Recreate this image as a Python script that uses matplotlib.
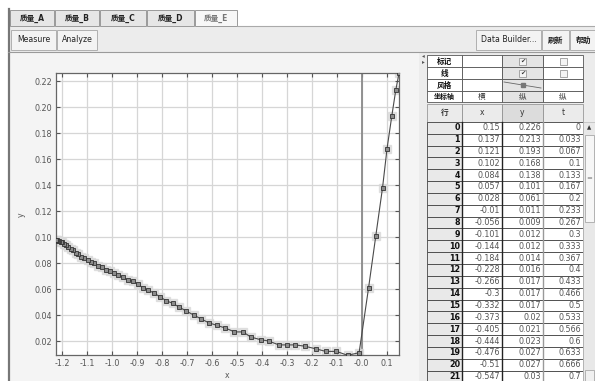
import numpy as np
import matplotlib
matplotlib.use("Agg")
import matplotlib.pyplot as plt
from matplotlib.patches import Rectangle
from matplotlib.lines import Line2D

plt.rcParams['font.family'] = ['DejaVu Sans', 'Noto Sans CJK SC']

x_vals = [0.15, 0.137, 0.121, 0.102, 0.084, 0.057, 0.028, -0.01, -0.056, -0.101,
          -0.144, -0.184, -0.228, -0.266, -0.3, -0.332, -0.373, -0.405, -0.444, -0.476,
          -0.51, -0.547, -0.580, -0.613, -0.644, -0.674, -0.703, -0.731, -0.758, -0.784,
          -0.809, -0.833, -0.856, -0.878, -0.899, -0.919, -0.939, -0.958, -0.976, -0.994,
          -1.011, -1.027, -1.043, -1.058, -1.072, -1.086, -1.099, -1.112, -1.124, -1.136,
          -1.147, -1.157, -1.167, -1.176, -1.185, -1.193, -1.200, -1.206, -1.212, -1.217,
          -1.221, -1.224, -1.226]
y_vals = [0.226, 0.213, 0.193, 0.168, 0.138, 0.101, 0.061, 0.011, 0.009, 0.012,
          0.012, 0.014, 0.016, 0.017, 0.017, 0.017, 0.02, 0.021, 0.023, 0.027,
          0.027, 0.03, 0.032, 0.034, 0.037, 0.040, 0.043, 0.046, 0.049, 0.051,
          0.054, 0.057, 0.059, 0.061, 0.064, 0.066, 0.067, 0.069, 0.071, 0.072,
          0.074, 0.075, 0.077, 0.078, 0.080, 0.081, 0.082, 0.084, 0.085, 0.087,
          0.088, 0.090, 0.091, 0.092, 0.094, 0.095, 0.096, 0.096, 0.097, 0.097,
          0.098, 0.098, 0.098]
t_vals = [0, 0.033, 0.067, 0.1, 0.133, 0.167, 0.2, 0.233, 0.267, 0.3, 0.333,
          0.367, 0.4, 0.433, 0.466, 0.5, 0.533, 0.566, 0.6, 0.633, 0.666, 0.7]

xtick_vals = [-1.2, -1.1, -1.0, -0.9, -0.8, -0.7, -0.6, -0.5, -0.4, -0.3, -0.2, -0.1, 0.0, 0.1]
xtick_labels = ["-1.2", "-1.1", "-1.0", "-0.9", "-0.8", "-0.7", "-0.6", "-0.5", "-0.4",
                "-0.3", "-0.2", "-0.1", "-0.0", "0.1"]
ytick_vals = [0.02, 0.04, 0.06, 0.08, 0.10, 0.12, 0.14, 0.16, 0.18, 0.20, 0.22]

tab_names = ["质量_A", "质量_B", "质量_C", "质量_D", "质量_E"]
left_buttons = ["Measure", "Analyze"]
right_buttons = ["Data Builder...", "刷新", "帮助"]
prop_rows = ["标记", "线", "风格", "坐标轴"]
axis_cells = ["横", "纵", "纵"]
col_names = ["行", "x", "y", "t"]

W, H = 595, 381
fig = plt.figure(figsize=(W / 100, H / 100), dpi=100)

ui = fig.add_axes([0, 0, 1, 1])
ui.set_xlim(0, W)
ui.set_ylim(H, 0)
ui.axis('off')


def box(x0, y0, x1, y1, fc='none', ec='none', lw=0.8, **kw):
    ui.add_patch(Rectangle((x0, y0), x1 - x0, y1 - y0, facecolor=fc, edgecolor=ec, linewidth=lw, **kw))


def hline(y, x0, x1, c='#888888', lw=0.8):
    ui.add_line(Line2D([x0, x1], [y, y], color=c, linewidth=lw))


def vline(x, y0, y1, c='#888888', lw=0.8):
    ui.add_line(Line2D([x, x], [y0, y1], color=c, linewidth=lw))


box(0, 0, W, H, fc='white')

# tabs
tab_edges = [10, 55, 100, 147, 195, 238]
for i, name in enumerate(tab_names):
    sel = i == len(tab_names) - 1
    box(tab_edges[i], 9.5, tab_edges[i + 1] - 1, 26, fc='#f7f7f7' if sel else '#e6e6e6', ec='#9a9a9a', lw=0.7)
    ui.text((tab_edges[i] + tab_edges[i + 1]) / 2, 18, name, fontsize=5.5, ha='center', va='center',
            color='#777777' if sel else '#222222', fontweight='bold')
hline(26, tab_edges[-1], W, '#aaaaaa')

# toolbar
box(8, 26.5, W, 52, fc='#ececec')
vline(9, 9, H, '#777777', 1.6)
btn_edges = [11, 57, 98]
for i, name in enumerate(left_buttons):
    box(btn_edges[i], 30, btn_edges[i + 1] - 1, 50, fc='#f3f3f3', ec='#b0b0b0', lw=0.7)
    ui.text((btn_edges[i] + btn_edges[i + 1]) / 2, 40, name, fontsize=5.6, ha='center', va='center',
            color='#222222')
rb_edges = [476, 542, 570, 597]
for i, name in enumerate(right_buttons):
    box(rb_edges[i], 30, rb_edges[i + 1] - 1, 50, fc='#f3f3f3', ec='#b0b0b0', lw=0.7)
    ui.text((rb_edges[i] + rb_edges[i + 1]) / 2, 40, name, fontsize=5.6, ha='center', va='center',
            color='#222222', fontweight='bold' if i else 'normal')
hline(52, 8, W, '#9a9a9a')

# main panels
box(10, 53, 419, H, fc='#f4f4f4')
box(419, 53, 427, H, fc='#ececec', ec='none', hatch='.....')
ui.text(423, 56, '◂', fontsize=4, ha='center', va='center', color='#555555')
ui.text(423, 62, '▸', fontsize=4, ha='center', va='center', color='#555555')
box(427, 53, W, H, fc='#ececec')

# property table
cols = [427, 462, 502, 543, 583]
prop_top = [55, 67.3, 79.3, 90.7, 101.7]
for r, lab in enumerate(prop_rows):
    y0, y1 = prop_top[r], prop_top[r + 1]
    for c in range(4):
        fc = 'white'
        if c == 2:
            fc = '#e4e4e4'
        box(cols[c], y0, cols[c + 1], y1, fc=fc, ec='#555555', lw=0.6)
    ui.text((cols[0] + cols[1]) / 2, (y0 + y1) / 2, lab, fontsize=5.5 if r < 3 else 5.0, ha='center',
            va='center', fontweight='bold', color='#111111')
    if r < 2:
        for c in (2, 3):
            cx, cy = (cols[c] + cols[c + 1]) / 2, (y0 + y1) / 2
            box(cx - 3.5, cy - 3.5, cx + 3.5, cy + 3.5, fc='#f4f4f4', ec='#999999', lw=0.6)
            if c == 2:
                ui.text(cx, cy + 0.3, '✔', fontsize=4.5, ha='center', va='center', color='#333333')
    elif r == 2:
        cy = (y0 + y1) / 2
        ui.add_line(Line2D([cols[2] + 2, cols[3] - 2], [cy - 3, cy + 3], color='#666666', linewidth=0.6))
        ui.plot([(cols[2] + cols[3]) / 2], [cy], marker='s', markersize=2.5, color='#777777')
    else:
        for c in range(3):
            ui.text((cols[c + 1] + cols[c + 2]) / 2, (y0 + y1) / 2, axis_cells[c], fontsize=5.5,
                    ha='center', va='center', color='#333333')

# data table
head_top, row_h = 104, 11.85
data_top = 121.8
for c, name in enumerate(col_names):
    box(cols[c], head_top, cols[c + 1], data_top, fc='#dcdcdc' if c == 2 else '#ebebeb', ec='#888888', lw=0.5)
    ui.text((cols[c] + cols[c + 1]) / 2, (head_top + data_top) / 2, name, fontsize=5.5,
            ha='center', va='center', color='#333333', fontweight='bold' if c == 0 else 'normal')

for i in range(len(t_vals)):
    y0 = data_top + i * row_h
    if y0 > H:
        break
    yc = y0 + row_h / 2
    box(cols[0], y0, cols[1], y0 + row_h, fc='#e9e9e9', ec='#444444', lw=0.6)
    box(cols[1], y0, cols[4], y0 + row_h, fc='white', ec='#444444', lw=0.6)
    ui.text(cols[1] - 2, yc, str(i), fontsize=5.8, ha='right', va='center', fontweight='bold', color='#111111')
    vals = [x_vals[i], y_vals[i], t_vals[i]]
    for c, v in enumerate(vals):
        ui.text(cols[c + 2] - 2, yc, f"{v:g}", fontsize=5.8, ha='right', va='center', color='#555555')
vline(cols[1], data_top, H, '#222222', 1.0)
vline(cols[2], data_top, H, '#222222', 1.0)
vline(cols[3], data_top, H, '#999999', 1.0)

# scrollbar
box(583, data_top, W, H, fc='#e8e8e8', ec='#bbbbbb', lw=0.5)
ui.text(589, data_top + 6, '▲', fontsize=4, ha='center', va='center', color='#333333')
box(584.5, 135, 594, 222, fc='#f6f6f6', ec='#a8a8a8', lw=0.6)
ui.text(589.2, 178, '=', fontsize=5, ha='center', va='center', color='#777777')
box(584.5, 370, 594, H, fc='#f0f0f0', ec='#a8a8a8', lw=0.6)

# chart
ax = fig.add_axes([56 / W, 1 - 355.3 / H, (399 - 56) / W, (355.3 - 73.3) / H])
ax.set_facecolor('white')
ax.plot(x_vals, y_vals, linestyle='none', marker='s', markersize=6.0, color='#d8d8d8', alpha=0.75, zorder=2)
ax.plot(x_vals, y_vals, color='#4a4a4a', linewidth=0.8, marker='s', markersize=3.0,
        markerfacecolor='#8c8c8c', markeredgecolor='#333333', markeredgewidth=0.6, zorder=3)
ax.axvline(0, color='#8a8a8a', linewidth=1.3, zorder=1)
ax.set_xlim(min(x_vals), max(x_vals))
ax.set_ylim(min(y_vals), max(y_vals))
ax.set_xticks(xtick_vals)
ax.set_xticklabels(xtick_labels)
ax.set_yticks(ytick_vals)
ax.set_yticklabels([f"{v:.2f}" for v in ytick_vals])
ax.grid(True, color='#d6d6d6', linewidth=0.9, zorder=0)
ax.set_axisbelow(True)
ax.tick_params(direction='in', length=3, width=0.8, color='#555555', labelsize=5.8,
               labelcolor='#555555', top=True, right=True, pad=3)
for s in ax.spines.values():
    s.set_color('#666666')
    s.set_linewidth(0.9)
ax.set_xlabel('x', fontsize=5.6, color='#555555', labelpad=2)
ax.set_ylabel('y', fontsize=5.6, color='#555555', labelpad=6)

fig.savefig('out.png', dpi=100)
